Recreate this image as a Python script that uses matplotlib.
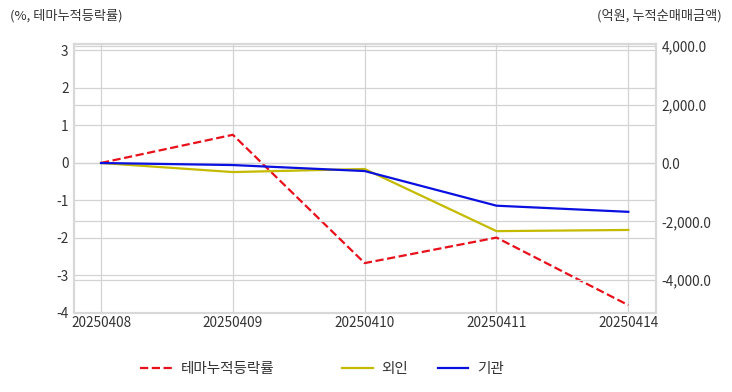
import numpy as np
import matplotlib
matplotlib.use("Agg")
import matplotlib.pyplot as plt
from matplotlib.ticker import FuncFormatter

plt.rcParams['font.family'] = ['Noto Sans CJK KR', 'DejaVu Sans']
plt.rcParams['axes.unicode_minus'] = False

# 데이터
dates = ['20250408', '20250409', '20250410', '20250411', '20250414']
theme_rate = [0.0, 0.75, -2.67, -1.99, -3.79]          # %
foreign = [0.0, -310.0, -205.0, -2330.0, -2290.0]       # 억원
institution = [0.0, -70.0, -275.0, -1460.0, -1670.0]    # 억원

grid_c = '#d3d3d3'
text_c = '#333333'

fig = plt.figure(figsize=(7.32, 3.92), dpi=100)
ax = fig.add_axes([74 / 732, 1 - 313 / 392, (656 - 74) / 732, (313 - 44) / 392])
ax2 = ax.twinx()

x = np.arange(len(dates))
l1, = ax.plot(x, theme_rate, color='#e8101a', linestyle='--', linewidth=1.6, label='테마누적등락률')
l2, = ax2.plot(x, foreign, color='#c4bb00', linewidth=1.6, label='외인')
l3, = ax2.plot(x, institution, color='#0a10e0', linewidth=1.6, label='기관')

ax.set_xlim(-0.205, 4.21)
ax.set_ylim(-4, 3.17)
ax2.set_ylim(-5130, 4070)

ax.set_xticks(x)
ax.set_xticklabels(dates)
ax.set_yticks(range(-4, 4))
ax2.set_yticks([-4000, -2000, 0, 2000, 4000])
ax2.yaxis.set_major_formatter(FuncFormatter(lambda v, p: f'{v:,.1f}'))

for a in (ax, ax2):
    a.tick_params(length=0, labelsize=9.8, colors=text_c)
    for s in a.spines.values():
        s.set_color('#d8d8d8')
        s.set_linewidth(1.5)
ax.tick_params(axis='y', pad=4)
ax.tick_params(axis='x', pad=2)
ax2.tick_params(axis='y', pad=4)

ax.grid(True, color=grid_c, linewidth=0.9)
ax2.grid(True, axis='y', color=grid_c, linewidth=0.9)
ax.set_axisbelow(True)
ax2.set_axisbelow(True)

fig.text(10 / 732, 1 - 16 / 392, '(%, 테마누적등락률)', fontsize=9.5, color=text_c, va='center', ha='left')
fig.text(722 / 732, 1 - 16 / 392, '(억원, 누적순매매금액)', fontsize=9.5, color=text_c, va='center', ha='right')

leg1 = fig.legend(handles=[l1], loc='center', bbox_to_anchor=(207 / 732, 1 - 369 / 392),
                  frameon=False, fontsize=10.5, handlelength=2.2, handletextpad=0.6)
for t in leg1.get_texts():
    t.set_color(text_c)
leg2 = fig.legend(handles=[l2, l3], loc='center', bbox_to_anchor=(423 / 732, 1 - 369 / 392),
                  frameon=False, fontsize=10.5, ncol=2, handlelength=2.1, handletextpad=0.6,
                  columnspacing=2.0)
for t in leg2.get_texts():
    t.set_color(text_c)

fig.savefig('out.png', dpi=100)
